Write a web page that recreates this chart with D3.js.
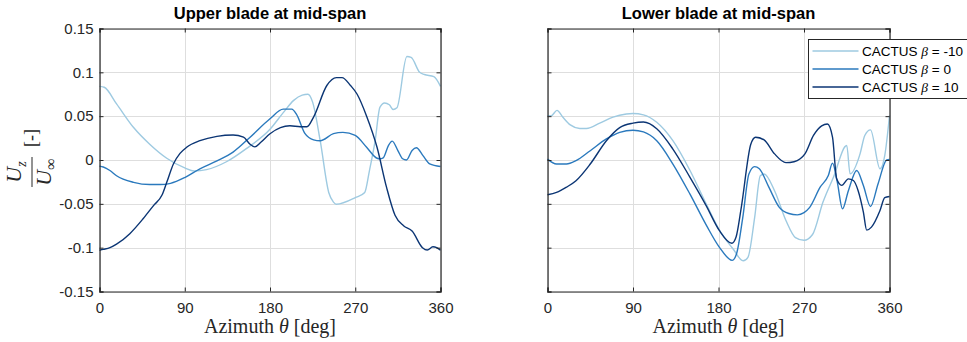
<!DOCTYPE html>
<html>
<head>
<meta charset="utf-8">
<script src="https://cdnjs.cloudflare.com/ajax/libs/d3/7.8.5/d3.min.js"></script>
<style>
body { margin: 0; background: #fff; }
svg { display: block; }
</style>
</head>
<body>
<svg width="967" height="342"></svg>
<script>

var svg = d3.select('body svg');

// axis ticks
var xTicks = [0, 90, 180, 270, 360];
var yTicks = [-0.15, -0.1, -0.05, 0, 0.05, 0.1, 0.15];

var panelTitles = ['Upper blade at mid-span', 'Lower blade at mid-span'];
var betas = [-10, 0, 10];
var colors = ['#9ecae1', '#2a79bd', '#0b3574'];

/*
	upper blade, [azimuth, Uz/Uinf]
*/
var upperBetaM10 = [[0,0.084],[5,0.083],[18,0.064],[36,0.037],[53,0.018],[71,0.002],[90,-0.009],[100,-0.0125],[113,-0.011],[134,-0.002],[155,0.013],[180,0.035],[194,0.054],[205,0.068],[214,0.074],[220,0.075],[225,0.066],[233,0.022],[242,-0.037],[247,-0.048],[250,-0.0505],[270,-0.043],[280,-0.037],[285,-0.012],[291,0.022],[296,0.060],[301,0.065],[306,0.063],[310,0.0576],[314,0.0595],[324.5,0.118],[329,0.117],[338,0.100],[343,0.0975],[353,0.095],[360,0.084]];
var upperBeta0 = [[0,-0.007],[4,-0.008],[11,-0.012],[18,-0.018],[36,-0.0255],[53,-0.028],[64,-0.028],[75,-0.0266],[90,-0.020],[106,-0.010],[124,-0.001],[141,0.009],[159,0.026],[180,0.047],[194,0.058],[203,0.058],[208,0.052],[217,0.030],[226,0.023],[233,0.022],[247,0.030],[257,0.0315],[270,0.028],[282,0.0145],[293,0.002],[296,0.0014],[299.5,0.0025],[305,0.0165],[309,0.0215],[315,0.0108],[320,0.0014],[324,0.0],[330,0.0108],[334.5,0.0139],[341.5,0.005],[348.6,-0.0044],[360,-0.0074]];
var upperBeta10 = [[0,-0.103],[4,-0.102],[11,-0.100],[18,-0.096],[32,-0.084],[46,-0.067],[57,-0.052],[66,-0.040],[71,-0.0255],[78,-0.0045],[85,0.0075],[92,0.0145],[106,0.022],[124,0.027],[141,0.0285],[152,0.026],[159,0.018],[164,0.015],[170,0.020],[180,0.030],[191,0.037],[201,0.039],[212,0.038],[219,0.038],[226,0.049],[240,0.085],[250,0.094],[256,0.094],[265,0.085],[272,0.075],[282,0.050],[293,0.0145],[303,-0.031],[312,-0.063],[321,-0.075],[330,-0.081],[341,-0.100],[346,-0.1027],[352,-0.099],[356,-0.100],[360,-0.103]];

/*
	lower blade
*/
var lowerBetaM10 = [[0,0.0506],[4,0.0506],[10,0.0566],[16,0.049],[24,0.040],[34,0.036],[41,0.036],[55,0.042],[69,0.049],[83,0.0525],[90,0.053],[101,0.0515],[115,0.043],[132,0.022],[150,-0.012],[167,-0.050],[181,-0.080],[195,-0.101],[206,-0.115],[211,-0.111],[218,-0.066],[224,-0.018],[228,-0.016],[239,-0.035],[251,-0.069],[261,-0.0885],[270,-0.0916],[279,-0.085],[290,-0.048],[301,-0.0196],[315,0.0165],[318.5,-0.0158],[329,0.007],[334,0.028],[340,0.0344],[350,-0.010],[355,0.005],[360,0.0507]];
var lowerBeta0 = [[0,0.001],[9.5,-0.0046],[20,-0.0046],[30,-0.0008],[45,0.0106],[62,0.024],[76,0.0316],[90,0.034],[101,0.032],[115,0.022],[132,-0.0046],[150,-0.039],[167,-0.074],[181,-0.0996],[194.5,-0.1145],[199,-0.107],[205.5,-0.066],[212,-0.016],[218,-0.0076],[223,-0.010],[233,-0.031],[244,-0.054],[254,-0.061],[263,-0.0626],[270,-0.060],[276,-0.054],[287,-0.031],[295.6,-0.0177],[300,-0.0036],[305,-0.025],[310.5,-0.0557],[316.7,-0.035],[325.5,-0.012],[332.5,-0.029],[340,-0.053],[348,-0.027],[357,0.0],[360,0.0005]];
var lowerBeta10 = [[0,-0.0396],[9.5,-0.037],[20,-0.031],[30,-0.0236],[45,-0.0046],[62,0.022],[76,0.037],[90,0.042],[101,0.0433],[115,0.0357],[132,0.0125],[150,-0.0198],[167,-0.052],[181,-0.0806],[194,-0.095],[198.5,-0.0878],[204,-0.054],[214,0.018],[219,0.026],[228,0.023],[239,0.007],[251,-0.003],[259.5,-0.002],[266,0.0014],[271,0.007],[280,0.028],[288.6,0.039],[294.6,0.041],[300,0.026],[304.4,-0.0215],[309.7,-0.029],[316.7,-0.0215],[322,-0.0234],[327,-0.035],[332.5,-0.0595],[336,-0.080],[341,-0.0766],[350,-0.0576],[355,-0.043],[360,-0.0416]];

var panels = [
	{ left: 99.5, right: 440.5, labels: true, series: [upperBetaM10, upperBeta0, upperBeta10] },
	{ left: 547.5, right: 889.5, labels: false, series: [lowerBetaM10, lowerBeta0, lowerBeta10] }
];

var plotTop = 28.5, plotBottom = 291.5;

var y = d3.scaleLinear().domain([-0.15, 0.15]).range([plotBottom, plotTop]);

function fmt(d) {
	return String(+d.toFixed(2));
}

panels.forEach(function (p, i) {

	var x = d3.scaleLinear().domain([0, 360]).range([p.left, p.right]);
	var g = svg.append('g');

	// grid
	g.selectAll('line.gx').data(xTicks).enter().append('line')
		.attr('x1', function (d) { return Math.round(x(d)) + 0.5; })
		.attr('x2', function (d) { return Math.round(x(d)) + 0.5; })
		.attr('y1', plotTop).attr('y2', plotBottom)
		.style('stroke', '#dedede').style('stroke-width', 1);
	g.selectAll('line.gy').data(yTicks).enter().append('line')
		.attr('y1', function (d) { return Math.round(y(d)) + 0.5; })
		.attr('y2', function (d) { return Math.round(y(d)) + 0.5; })
		.attr('x1', p.left).attr('x2', p.right)
		.style('stroke', '#dedede').style('stroke-width', 1);

	// lines
	var line = d3.line()
		.x(function (d) { return x(d[0]); })
		.y(function (d) { return y(d[1]); })
		.curve(d3.curveMonotoneX);

	p.series.forEach(function (s, k) {
		g.append('path').attr('d', line(s))
			.style('fill', 'none')
			.style('stroke', colors[k])
			.style('stroke-width', 1.4);
	});

	// axes, ticks pointing in
	g.append('g').attr('transform', 'translate(0,' + plotBottom + ')')
		.call(d3.axisBottom(x).tickValues(xTicks).tickSize(-4).tickPadding(11).tickFormat(fmt));
	g.append('g').attr('transform', 'translate(0,' + plotTop + ')')
		.call(d3.axisTop(x).tickValues(xTicks).tickSize(-4).tickFormat(''));
	g.append('g').attr('transform', 'translate(' + p.left + ',0)')
		.call(d3.axisLeft(y).tickValues(yTicks).tickSize(-4).tickPadding(6).tickFormat(p.labels ? fmt : ''));
	g.append('g').attr('transform', 'translate(' + p.right + ',0)')
		.call(d3.axisRight(y).tickValues(yTicks).tickSize(-4).tickFormat(''));

	g.selectAll('.domain').style('stroke', '#262626').style('stroke-width', 1.2);
	g.selectAll('.tick line').style('stroke', '#262626');
	g.selectAll('.tick text').style('font-family', 'Liberation Sans, Arial, sans-serif')
		.style('font-size', '15px').style('fill', '#262626');

	// title
	g.append('text').attr('x', (p.left + p.right) / 2).attr('y', 19)
		.attr('text-anchor', 'middle')
		.style('font-family', 'Liberation Sans, Arial, sans-serif')
		.style('font-weight', 'bold').style('font-size', '16.5px')
		.text(panelTitles[i]);

	// x label
	var xl = g.append('text').attr('x', (p.left + p.right) / 2).attr('y', 333)
		.attr('text-anchor', 'middle')
		.style('font-family', 'Liberation Serif, Times New Roman, serif')
		.style('font-size', '20px').style('fill', '#262626');
	xl.append('tspan').text('Azimuth ');
	xl.append('tspan').style('font-style', 'italic').text('θ');
	xl.append('tspan').text(' [deg]');
});

/*
	y label : Uz / Uinf [-]
*/
var yl = svg.append('g').attr('transform', 'translate(32,172) rotate(-90)')
	.style('font-family', 'Liberation Serif, Times New Roman, serif')
	.style('fill', '#262626');

var num = yl.append('text').attr('x', 0).attr('y', -11).attr('text-anchor', 'middle')
	.style('font-size', '22px').style('font-style', 'italic');
num.append('tspan').text('U');
num.append('tspan').attr('dy', 5).style('font-size', '14px').text('z');

yl.append('line').attr('x1', -15).attr('x2', 15).attr('y1', 0).attr('y2', 0)
	.style('stroke', '#262626').style('stroke-width', 1);

var den = yl.append('text').attr('x', 0).attr('y', 19).attr('text-anchor', 'middle')
	.style('font-size', '22px').style('font-style', 'italic');
den.append('tspan').text('U');
den.append('tspan').attr('dy', 5).style('font-size', '16px').style('font-style', 'normal').text('∞');

yl.append('text').attr('x', 34).attr('y', 5).attr('text-anchor', 'middle')
	.style('font-size', '18px').text('[-]');

/*
	legend
*/
var legend = svg.append('g').attr('transform', 'translate(808.5,39.5)');

legend.append('rect').attr('x', 0).attr('y', 0).attr('width', 170).attr('height', 59)
	.style('fill', '#fff').style('stroke', '#262626').style('stroke-width', 1);

betas.forEach(function (b, k) {
	var ry = 11.5 + k * 18;
	legend.append('line').attr('x1', 4).attr('x2', 50).attr('y1', ry).attr('y2', ry)
		.style('stroke', colors[k]).style('stroke-width', 1.4);
	var t = legend.append('text').attr('x', 53.5).attr('y', ry + 5)
		.style('font-family', 'Liberation Sans, Arial, sans-serif')
		.style('font-size', '13.5px').style('fill', '#000');
	t.append('tspan').text('CACTUS ');
	t.append('tspan').style('font-family', 'Liberation Serif, serif').style('font-style', 'italic').text('β');
	t.append('tspan').text(' = ' + b);
});

</script>
</body>
</html>
